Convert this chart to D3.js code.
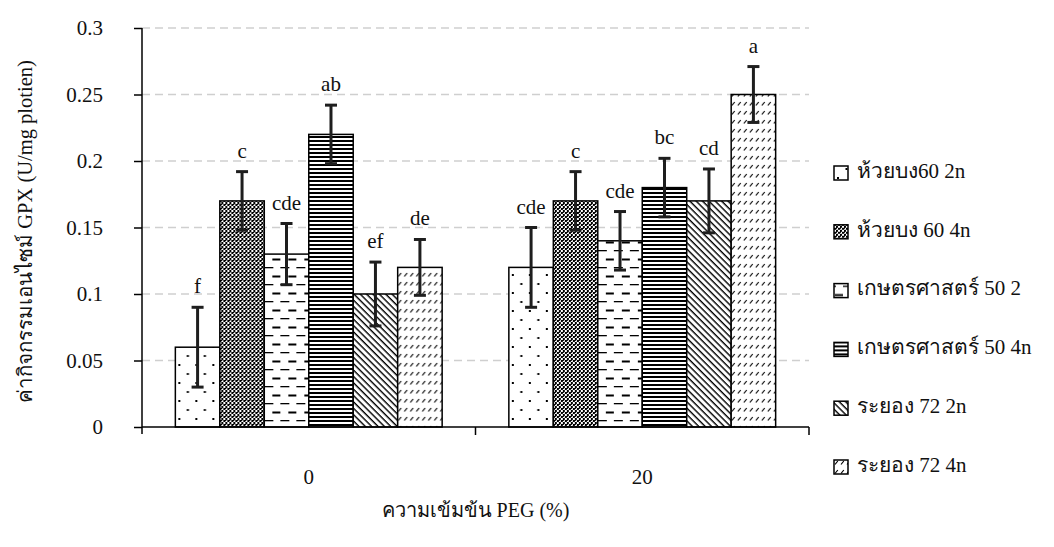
<!DOCTYPE html>
<html>
<head>
<meta charset="utf-8">
<script src="https://cdn.jsdelivr.net/npm/d3@7/dist/d3.min.js"></script>
<style>
  html, body { margin: 0; padding: 0; background: #fff; }
  svg { display: block; font-family: "Liberation Serif", "Times New Roman", serif; }
  svg text { font-family: "Liberation Serif", "Times New Roman", serif !important; fill: #111; }
</style>
</head>
<body>
<svg id="chart" width="1054" height="547"></svg>
<script>
// PEG concentration groups
const categories = ["0", "20"];
// cultivars (series)
const seriesNames = ["ห้วยบง60 2n", "ห้วยบง 60 4n", "เกษตรศาสตร์ 50 2", "เกษตรศาสตร์ 50 4n", "ระยอง 72 2n", "ระยอง 72 4n"];
// GPX activity means per group
const valuesPeg0  = [0.06, 0.17, 0.13, 0.22, 0.10, 0.12];
const valuesPeg20 = [0.12, 0.17, 0.14, 0.18, 0.17, 0.25];
// standard errors
const errorsPeg0  = [0.030, 0.022, 0.023, 0.022, 0.024, 0.021];
const errorsPeg20 = [0.030, 0.022, 0.022, 0.022, 0.024, 0.021];
// significance letters
const lettersPeg0  = ["f", "c", "cde", "ab", "ef", "de"];
const lettersPeg20 = ["cde", "c", "cde", "bc", "cd", "a"];
// y axis ticks
const yTicks = [0, 0.05, 0.1, 0.15, 0.2, 0.25, 0.3];
const yTickLabels = ["0", "0.05", "0.1", "0.15", "0.2", "0.25", "0.3"];

const yTitle = "ค่ากิจกรรมเอนไซม์ GPX (U/mg plotien)";
const xTitle = "ความเข้มข้น PEG (%)";

const groups = [
  { cat: categories[0], values: valuesPeg0, errors: errorsPeg0, letters: lettersPeg0 },
  { cat: categories[1], values: valuesPeg20, errors: errorsPeg20, letters: lettersPeg20 }
];

const svg = d3.select("#chart");
const plot = { left: 142, right: 809, top: 28, bottom: 427 };

const y = d3.scaleLinear().domain([0, 0.3]).range([plot.bottom, plot.top]);
const x0 = d3.scaleBand().domain(categories).range([plot.left, plot.right])
  .paddingInner(0.2).paddingOuter(0.1);
const x1 = d3.scaleBand().domain(seriesNames).range([0, x0.bandwidth()]);

// ---- fill patterns ----
const defs = svg.append("defs");
const patIds = seriesNames.map((d, i) => "pat" + i);

// 0: sparse dots
let p = defs.append("pattern").attr("id", patIds[0]).attr("patternUnits", "userSpaceOnUse")
  .attr("width", 17).attr("height", 18);
p.append("rect").attr("width", 17).attr("height", 18).attr("fill", "#fff");
p.append("rect").attr("x", 3).attr("y", 4).attr("width", 2).attr("height", 2).attr("fill", "#000");
p.append("rect").attr("x", 11.5).attr("y", 13).attr("width", 2).attr("height", 2).attr("fill", "#000");

// 1: fine checkerboard
p = defs.append("pattern").attr("id", patIds[1]).attr("patternUnits", "userSpaceOnUse")
  .attr("width", 4).attr("height", 4);
p.append("rect").attr("width", 4).attr("height", 4).attr("fill", "#fff");
p.append("rect").attr("x", 0).attr("y", 0).attr("width", 2).attr("height", 2).attr("fill", "#000");
p.append("rect").attr("x", 2).attr("y", 2).attr("width", 2).attr("height", 2).attr("fill", "#000");
p.append("rect").attr("x", 2).attr("y", 0).attr("width", 1).attr("height", 1).attr("fill", "#000");

// 2: horizontal dashes, staggered rows
p = defs.append("pattern").attr("id", patIds[2]).attr("patternUnits", "userSpaceOnUse")
  .attr("width", 16).attr("height", 17);
p.append("rect").attr("width", 16).attr("height", 17).attr("fill", "#fff");
p.append("rect").attr("x", 1).attr("y", 3.5).attr("width", 8).attr("height", 2).attr("fill", "#000");
p.append("rect").attr("x", 9).attr("y", 12).attr("width", 9).attr("height", 1.3).attr("fill", "#000");
p.append("rect").attr("x", -7).attr("y", 12).attr("width", 9).attr("height", 1.3).attr("fill", "#000");

// 3: dense horizontal lines
p = defs.append("pattern").attr("id", patIds[3]).attr("patternUnits", "userSpaceOnUse")
  .attr("width", 4).attr("height", 4);
p.append("rect").attr("width", 4).attr("height", 4).attr("fill", "#fff");
p.append("rect").attr("x", 0).attr("y", 0).attr("width", 4).attr("height", 2).attr("fill", "#000");

// 4: diagonal lines running down to the right
p = defs.append("pattern").attr("id", patIds[4]).attr("patternUnits", "userSpaceOnUse")
  .attr("width", 4.5).attr("height", 4.5).attr("patternTransform", "rotate(45)");
p.append("rect").attr("width", 4.5).attr("height", 4.5).attr("fill", "#fff");
p.append("rect").attr("x", 0).attr("y", 0).attr("width", 4.5).attr("height", 1.4).attr("fill", "#000");

// 5: rows of short forward-slash dashes
p = defs.append("pattern").attr("id", patIds[5]).attr("patternUnits", "userSpaceOnUse")
  .attr("width", 6).attr("height", 9);
p.append("rect").attr("width", 6).attr("height", 9).attr("fill", "#fff");
p.append("line").attr("x1", 1).attr("y1", 6.5).attr("x2", 3.8).attr("y2", 3)
  .attr("stroke", "#000").attr("stroke-width", 1.2);

// ---- gridlines ----
svg.append("g").selectAll("line").data(yTicks.filter(t => t > 0)).join("line")
  .attr("x1", plot.left).attr("x2", plot.right)
  .attr("y1", d => y(d)).attr("y2", d => y(d))
  .attr("stroke", "#cfcfcf").attr("stroke-width", 1.3).attr("stroke-dasharray", "8,5");

// ---- bars ----
const gGroups = svg.append("g").selectAll("g").data(groups).join("g")
  .attr("transform", d => `translate(${x0(d.cat)},0)`);

gGroups.selectAll("rect").data(d => d.values.map((v, i) => ({ v, i }))).join("rect")
  .attr("x", d => x1(seriesNames[d.i]))
  .attr("y", d => y(d.v))
  .attr("width", x1.bandwidth())
  .attr("height", d => y(0) - y(d.v))
  .attr("fill", d => `url(#${patIds[d.i]})`)
  .attr("stroke", "#000").attr("stroke-width", 1.5);

// ---- error bars ----
const capW = 12;
const cx = d => x1(seriesNames[d.i]) + x1.bandwidth() / 2;
const eb = gGroups.selectAll("g.err")
  .data(d => d.values.map((v, i) => ({ v, e: d.errors[i], i }))).join("g").attr("class", "err")
  .attr("stroke", "#1e1e1e").attr("stroke-width", 3);
eb.append("line")
  .attr("x1", cx).attr("x2", cx)
  .attr("y1", d => y(d.v + d.e)).attr("y2", d => y(d.v - d.e));
eb.append("line")
  .attr("x1", d => cx(d) - capW / 2).attr("x2", d => cx(d) + capW / 2)
  .attr("y1", d => y(d.v + d.e)).attr("y2", d => y(d.v + d.e));
eb.append("line")
  .attr("x1", d => cx(d) - capW / 2).attr("x2", d => cx(d) + capW / 2)
  .attr("y1", d => y(d.v - d.e)).attr("y2", d => y(d.v - d.e));

// ---- significance letters ----
gGroups.selectAll("text.sig")
  .data(d => d.values.map((v, i) => ({ v, e: d.errors[i], t: d.letters[i], i }))).join("text")
  .attr("class", "sig")
  .attr("x", cx)
  .attr("y", d => y(d.v + d.e) - 14)
  .attr("text-anchor", "middle")
  .attr("font-size", 21)
  .text(d => d.t);

// ---- y axis ----
const yAxis = d3.axisLeft(y).tickValues(yTicks).tickFormat((d, i) => yTickLabels[i])
  .tickSize(8).tickPadding(31).tickSizeOuter(0);
const gy = svg.append("g").attr("transform", `translate(${plot.left},0)`).call(yAxis);
gy.attr("font-family", null);
gy.select(".domain").attr("stroke", "#000").attr("stroke-width", 1.5)
  .attr("d", `M0,${plot.top}V${plot.bottom + 7}`);
gy.selectAll(".tick line").attr("stroke", "#000").attr("stroke-width", 1.5);
gy.selectAll(".tick text").attr("font-size", 21).attr("fill", "#111");

// ---- x axis: category labels with separator ticks ----
const xAxis = d3.axisBottom(x0).tickSize(0).tickPadding(42);
const gx = svg.append("g").attr("transform", `translate(0,${plot.bottom})`).call(xAxis);
gx.attr("font-family", null);
gx.select(".domain").attr("stroke", "#000").attr("stroke-width", 1.5)
  .attr("d", `M${plot.left},0H${plot.right}`);
gx.selectAll(".tick text").attr("font-size", 21).attr("fill", "#111");
gx.selectAll("line.sep")
  .data([plot.left + x0.step() * (x0.paddingOuter() + 1 - x0.paddingInner() / 2), plot.right])
  .join("line").attr("class", "sep")
  .attr("x1", d => d).attr("x2", d => d).attr("y1", 0).attr("y2", 8)
  .attr("stroke", "#000").attr("stroke-width", 1.5);

// ---- axis titles ----
svg.append("text")
  .attr("transform", `translate(27,${(plot.top + plot.bottom) / 2 + 4}) rotate(-90)`)
  .attr("text-anchor", "middle").attr("dominant-baseline", "middle")
  .attr("font-size", 20.5).text(yTitle);
svg.append("text")
  .attr("x", (plot.left + plot.right) / 2).attr("y", 517)
  .attr("text-anchor", "middle").attr("font-size", 20).text(xTitle);

// ---- legend ----
const legend = svg.append("g").attr("transform", "translate(834,173)");
const li = legend.selectAll("g").data(seriesNames).join("g")
  .attr("transform", (d, i) => `translate(0,${i * 58.8})`);
li.append("rect").attr("x", 0).attr("y", -7).attr("width", 14).attr("height", 14)
  .attr("fill", (d, i) => `url(#${patIds[i]})`).attr("stroke", "#000").attr("stroke-width", 1.5);
li.append("text").attr("x", 23).attr("y", 0).attr("dominant-baseline", "middle")
  .attr("font-size", 21).text(d => d);
</script>
</body>
</html>
